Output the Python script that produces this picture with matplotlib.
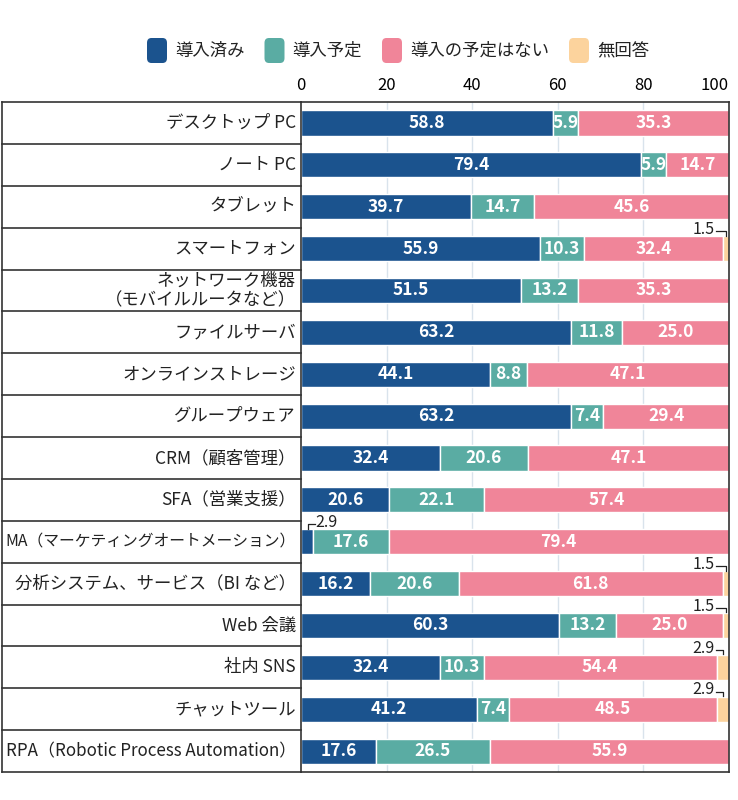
import matplotlib.pyplot as plt
from matplotlib.patches import FancyBboxPatch

plt.rcParams['font.family'] = ['Noto Sans CJK JP', 'DejaVu Sans']

# data (percent)
categories = ['デスクトップ PC', 'ノート PC', 'タブレット', 'スマートフォン',
              'ネットワーク機器\n（モバイルルータなど）', 'ファイルサーバ',
              'オンラインストレージ', 'グループウェア', 'CRM（顧客管理）',
              'SFA（営業支援）', 'MA（マーケティングオートメーション）',
              '分析システム、サービス（BI など）', 'Web 会議', '社内 SNS',
              'チャットツール', 'RPA（Robotic Process Automation）']
done = [58.8, 79.4, 39.7, 55.9, 51.5, 63.2, 44.1, 63.2, 32.4, 20.6, 2.9, 16.2, 60.3, 32.4, 41.2, 17.6]
planned = [5.9, 5.9, 14.7, 10.3, 13.2, 11.8, 8.8, 7.4, 20.6, 22.1, 17.6, 20.6, 13.2, 10.3, 7.4, 26.5]
no_plan = [35.3, 14.7, 45.6, 32.4, 35.3, 25.0, 47.1, 29.4, 47.1, 57.4, 79.4, 61.8, 25.0, 54.4, 48.5, 55.9]
no_answer = [0, 0, 0, 1.5, 0, 0, 0, 0, 0, 0, 0, 1.5, 1.5, 2.9, 2.9, 0]
series_names = ['導入済み', '導入予定', '導入の予定はない', '無回答']
colors = ['#1b538e', '#5aaca3', '#f08599', '#fcd39d']
ticks = [0, 20, 40, 60, 80, 100]

fig = plt.figure(figsize=(7.38, 8), dpi=100)
ax = fig.add_axes([301 / 738, 1 - 772 / 800, 428 / 738, 670 / 800])

y = list(range(len(categories)))
series = [done, planned, no_plan, no_answer]
left = [0] * len(categories)
for vals, col in zip(series, colors):
    ax.barh(y, vals, left=left, height=0.6, color=col, edgecolor='white', linewidth=1, zorder=2)
    left = [l + v for l, v in zip(left, vals)]

# value labels inside the bars
left = [0] * len(categories)
for si, vals in enumerate(series):
    for i, v in enumerate(vals):
        if v >= 5:
            ax.text(left[i] + v / 2, i, f'{v:.1f}', ha='center', va='center',
                    color='white', fontsize=12.5, fontweight='bold', zorder=3)
    left = [l + v for l, v in zip(left, vals)]

# small callouts
for i in y:
    if 0 < no_answer[i] < 5:
        v = no_answer[i]
        xc = 100 - v / 2
        ax.text(96.6, i - 0.46, f'{v:.1f}', ha='right', va='center', fontsize=11.5, color='#222222')
        ax.plot([97.0, xc, xc], [i - 0.42, i - 0.42, i - 0.31], color='#222222', lw=0.9, clip_on=False, zorder=4)
    if 0 < done[i] < 5:
        v = done[i]
        xc = v / 2 + 0.2
        ax.plot([xc, xc, 3.2], [i - 0.31, i - 0.42, i - 0.42], color='#222222', lw=0.9, clip_on=False, zorder=4)
        ax.text(3.4, i - 0.46, f'{v:.1f}', ha='left', va='center', fontsize=11.5, color='#222222')

ax.set_xlim(0, 100)
ax.set_ylim(len(categories) - 0.5, -0.5)
ax.set_xticks(ticks)
ax.xaxis.tick_top()
ax.tick_params(axis='x', length=0, labelsize=12, pad=6)
ax.get_xticklabels()[-1].set_horizontalalignment('right')
ax.get_xticklabels()[-1].set_x(101.5)
ax.set_yticks([])
for xv in ticks[1:-1]:
    ax.axvline(xv, color='#d9e3ec', lw=1, zorder=1)
for s in ax.spines.values():
    s.set_color('#333333')
    s.set_linewidth(1.2)

# label table on the left
tr = ax.get_yaxis_transform()
x0 = (2 - 301) / 428
for b in [i - 0.5 for i in y] + [len(categories) - 0.5]:
    ax.plot([x0, 0], [b, b], transform=tr, color='#333333', lw=1.2, clip_on=False)
ax.plot([x0, x0], [-0.5, len(categories) - 0.5], transform=tr, color='#333333', lw=1.2, clip_on=False)

fig.canvas.draw()
renderer = fig.canvas.get_renderer()
for i, c in enumerate(categories):
    t = ax.text(-0.012, i, c, transform=tr, ha='right', va='center', fontsize=12.5,
                color='#222222', linespacing=1.15)
    w = t.get_window_extent(renderer).width
    if w > 291:
        t.set_fontsize(12.5 * 291 / w)

# legend
xpos = 147
for name, col in zip(series_names, colors):
    p = FancyBboxPatch((xpos / 738, 1 - 63 / 800), 20 / 738, 25 / 800,
                       boxstyle='round,pad=0,rounding_size=0.006',
                       transform=fig.transFigure, facecolor=col, edgecolor='none')
    fig.patches.append(p)
    t = fig.text((xpos + 28) / 738, 1 - 51 / 800, name, ha='left', va='center', fontsize=12.5, color='#222222')
    w = t.get_window_extent(renderer).width
    xpos += 28 + w + 20

fig.savefig('out.png', dpi=100)
